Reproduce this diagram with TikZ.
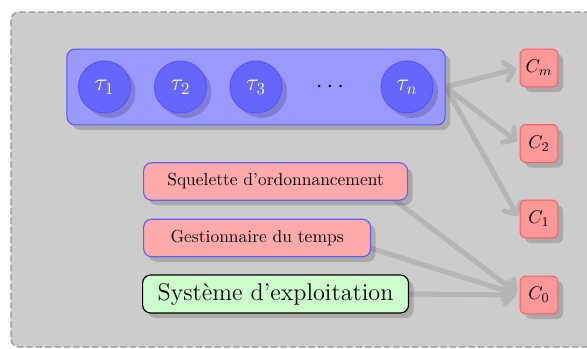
\documentclass[tikz,border=0pt]{standalone}
\usetikzlibrary{shadows,arrows.meta}
\definecolor{bggray}{HTML}{CCCCCC}
\definecolor{bgline}{HTML}{959595}
\definecolor{arrgray}{HTML}{B5B5B5}
\definecolor{contfill}{HTML}{9999FF}
\definecolor{contline}{HTML}{5555FF}
\definecolor{taskfill}{HTML}{6666FF}
\definecolor{cfill}{HTML}{FF9999}
\definecolor{cline}{HTML}{FF5C5C}
\definecolor{pinkfill}{HTML}{FFAAAA}
\definecolor{pinkline}{HTML}{6060FF}
\definecolor{greenfill}{HTML}{CCFFCC}
\pgfdeclarelayer{bglayer}
\pgfdeclarelayer{arrlayer}
\pgfsetlayers{bglayer,arrlayer,main}
\begin{document}
\begin{tikzpicture}[x=0.5952pt,y=-0.5952pt,
  shad/.style={drop shadow={shadow xshift=3pt,shadow yshift=-3pt,opacity=0.17,fill=black}},
  container/.style={draw=contline,fill=contfill,line width=0.6pt,rounded corners=4.8pt,
    minimum width=225pt,minimum height=45.2pt,shad},
  task/.style={circle,draw=contline,fill=taskfill,line width=0.6pt,minimum size=30.9pt,
    inner sep=0pt,text=white,font=\Large,shad},
  cnode/.style={draw=cline,fill=cfill,line width=0.6pt,rounded corners=3.6pt,
    minimum size=22.6pt,inner sep=0pt,font=\fontsize{11}{13}\selectfont,shad},
  pinkbox/.style={draw=pinkline,fill=pinkfill,line width=0.7pt,rounded corners=4.8pt,
    minimum height=22.3pt,inner sep=0pt,anchor=west,font=\fontsize{10.4}{12}\selectfont,shad},
  greenbox/.style={draw=black,fill=greenfill,line width=0.7pt,rounded corners=4.8pt,
    minimum height=22.6pt,inner sep=0pt,anchor=west,font=\Large,shad},
  arr/.style={draw=arrgray,line width=3pt,line cap=round,
    -{Straight Barb[length=5pt,width=11pt,round]},shorten >=2pt}]
\useasboundingbox (0,0) rectangle (587,349);
\begin{pgfonlayer}{bglayer}
\begin{scope}
\clip (0,0) rectangle (587,349);
\draw[bgline,fill=bggray,line width=0.8pt,dash pattern=on 3.8pt off 1.8pt,rounded corners=4.8pt]
  (11,12) rectangle (610,347);
\end{scope}
\end{pgfonlayer}

\node[container] (tasks) at (256,87) {};
\node[task] (t1) at (104.5,87) {$\tau_1$};
\node[task] (t2) at (180.5,87) {$\tau_2$};
\node[task] (t3) at (256,87) {$\tau_3$};
\node[font=\Large] (dots) at (330,87) {$\cdots$};
\node[task] (tn) at (407,87) {$\tau_n$};

\node[cnode] (cm) at (539,68) {$C_m$};
\node[cnode] (c2) at (539,143.5) {$C_2$};
\node[cnode] (c1) at (539,219) {$C_1$};
\node[cnode] (c0) at (539,295) {$C_0$};

\node[pinkbox,minimum width=157.1pt] (sq) at (143,181.5) {Squelette d'ordonnancement};
\node[pinkbox,minimum width=135.1pt] (ge) at (143,238) {Gestionnaire du temps};
\node[greenbox,minimum width=158.3pt] (sys) at (142,294) {Syst\`eme d'exploitation};

\coordinate (sqs) at (370,181.5);
\coordinate (ges) at (338,238);

\begin{pgfonlayer}{arrlayer}
\draw[arr] (tasks.east) -- (cm.west);
\draw[arr] (tasks.east) -- (c2.west);
\draw[arr] (tasks.east) -- (c1.west);
\draw[arr] (sqs) -- (c0.west);
\draw[arr] (ges) -- (c0.west);
\draw[arr] (sys.east) -- (c0.west);
\end{pgfonlayer}
\end{tikzpicture}
\end{document}
